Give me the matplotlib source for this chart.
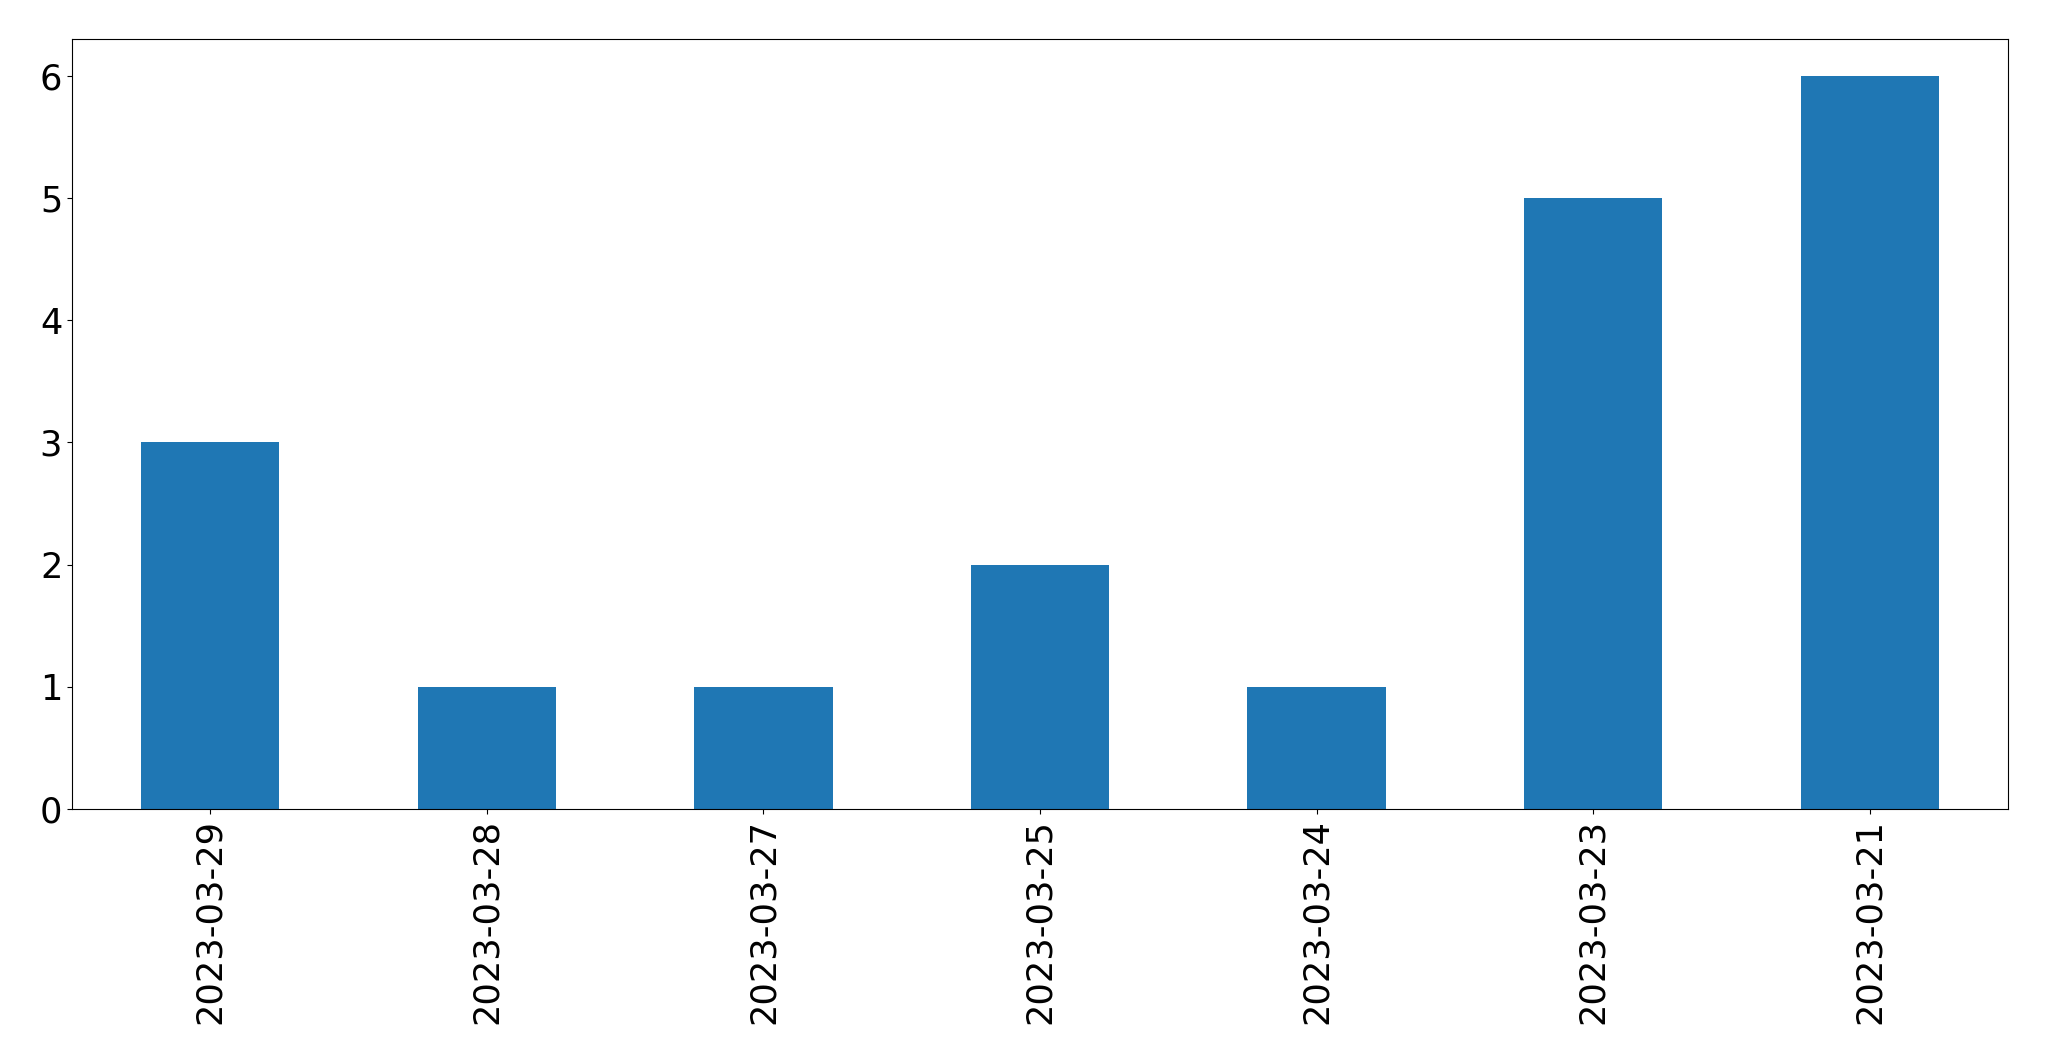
import matplotlib
matplotlib.use("Agg")
import matplotlib.pyplot as plt

dates = ["2023-03-29", "2023-03-28", "2023-03-27", "2023-03-25", "2023-03-24", "2023-03-23", "2023-03-21"]
counts = [3, 1, 1, 2, 1, 5, 6]

fig = plt.figure(figsize=(20.49, 10.61), dpi=100)
ax = fig.add_axes([72/2049, 1-809/1061, (2008-72)/2049, (809-39)/1061])
x = list(range(len(dates)))
ax.bar(x, counts, width=0.5, color="#1f77b4")
ax.set_xlim(-0.5, len(dates) - 0.5)
ax.set_ylim(0, 6.3)
ax.set_xticks(x)
ax.set_xticklabels(dates, rotation=90)
ax.tick_params(axis="both", labelsize=25.3)
fig.savefig("out.png", dpi=100)
